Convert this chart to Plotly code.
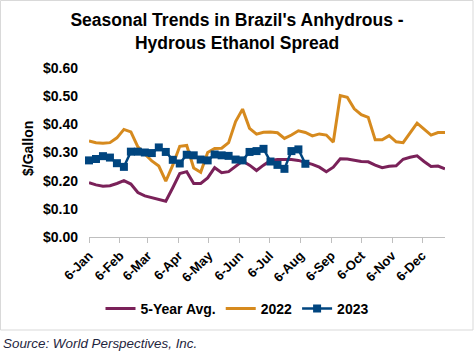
import plotly.graph_objects as go
import pandas as pd

# ---- data ----
weeks = pd.date_range("2023-01-06", periods=52, freq="7D")

avg5 = [0.193, 0.185, 0.180, 0.182, 0.190, 0.200, 0.188, 0.158, 0.146, 0.140,
        0.133, 0.127, 0.175, 0.225, 0.232, 0.190, 0.190, 0.210, 0.246, 0.228,
        0.232, 0.252, 0.270, 0.255, 0.236, 0.255, 0.272, 0.275, 0.275, 0.275,
        0.272, 0.265, 0.258, 0.248, 0.232, 0.248, 0.278, 0.277, 0.272, 0.268,
        0.267, 0.255, 0.246, 0.251, 0.253, 0.276, 0.283, 0.288, 0.268, 0.250,
        0.252, 0.242]

y2022 = [0.341, 0.335, 0.333, 0.335, 0.352, 0.382, 0.373, 0.320, 0.295, 0.270,
         0.252, 0.198, 0.255, 0.322, 0.325, 0.245, 0.230, 0.300, 0.314, 0.315,
         0.335, 0.410, 0.454, 0.386, 0.365, 0.372, 0.373, 0.370, 0.350, 0.362,
         0.377, 0.371, 0.359, 0.366, 0.362, 0.337, 0.502, 0.496, 0.455, 0.434,
         0.425, 0.345, 0.345, 0.360, 0.338, 0.335, 0.370, 0.404, 0.383, 0.362,
         0.371, 0.371]

y2023 = [0.272, 0.277, 0.287, 0.282, 0.262, 0.249, 0.303, 0.303, 0.300, 0.298,
         0.318, 0.302, 0.274, 0.261, 0.292, 0.290, 0.275, 0.272, 0.293, 0.290,
         0.288, 0.275, 0.272, 0.302, 0.305, 0.313, 0.268, 0.256, 0.242, 0.305,
         0.311, 0.260]

tick_dates = ["2023-01-06", "2023-02-06", "2023-03-06", "2023-04-06", "2023-05-06",
              "2023-06-06", "2023-07-06", "2023-08-06", "2023-09-06", "2023-10-06",
              "2023-11-06", "2023-12-06"]
tick_labels = ["6-Jan", "6-Feb", "6-Mar", "6-Apr", "6-May", "6-Jun",
               "6-Jul", "6-Aug", "6-Sep", "6-Oct", "6-Nov", "6-Dec"]
y_ticks = [0.0, 0.1, 0.2, 0.3, 0.4, 0.5, 0.6]
y_labels = ["$0.00", "$0.10", "$0.20", "$0.30", "$0.40", "$0.50", "$0.60"]

# ---- layout geometry (pixels) ----
W, H = 474, 357
L, R, T, B = 89, 29, 68, 120
PW, PH = W - L - R, H - T - B

def px(x):
    return (x - L) / PW

def py(y):
    return (H - B - y) / PH

FONT = "Liberation Sans, Arial, sans-serif"

fig = go.Figure()
fig.add_trace(go.Scatter(x=weeks, y=avg5, name="<b>5-Year Avg.</b>", mode="lines",
                         line=dict(color="#7A2159", width=3), cliponaxis=False))
fig.add_trace(go.Scatter(x=weeks, y=y2022, name="<b>2022</b>", mode="lines",
                         line=dict(color="#D68A1E", width=3), cliponaxis=False))
fig.add_trace(go.Scatter(x=weeks[:len(y2023)], y=y2023, name="<b>2023</b>", mode="lines+markers",
                         line=dict(color="#00457F", width=2.5),
                         marker=dict(symbol="square", size=8, color="#00457F"),
                         cliponaxis=False))

fig.update_layout(
    width=W, height=H,
    margin=dict(l=L, r=R, t=T, b=B, autoexpand=False),
    paper_bgcolor="white", plot_bgcolor="white",
    font=dict(family=FONT, color="black"),
    title=dict(text="<b>Seasonal Trends in Brazil's Anhydrous -<br>Hydrous Ethanol Spread</b>",
               x=px(237), xanchor="center", xref="paper", y=1 - 26 / H, yanchor="top",
               yref="container",
               font=dict(size=17.5, family=FONT, color="black")),
    showlegend=True,
    legend=dict(orientation="h", x=px(237), xanchor="center", y=py(309), yanchor="middle",
                font=dict(size=14, family=FONT, color="black"), itemwidth=30,
                tracegroupgap=0, bgcolor="rgba(0,0,0,0)"),
    xaxis=dict(type="date", range=["2023-01-06", "2023-12-29"], automargin=False,
               tickvals=tick_dates, ticktext=[f"<b>{t}</b>" for t in tick_labels],
               tickangle=-45, ticks="outside", ticklen=5, tickcolor="#BFBFBF",
               showline=True, linecolor="#BFBFBF", linewidth=1, showgrid=False,
               zeroline=False, tickfont=dict(size=13, family=FONT, color="black")),
    yaxis=dict(range=[0, 0.6], tickvals=y_ticks, automargin=False,
               ticktext=[f"<b>{t}</b>" for t in y_labels],
               showline=False, showgrid=False, zeroline=False, ticks="",
               ticklabelstandoff=10,
               tickfont=dict(size=14, family=FONT, color="black")),
    annotations=[
        dict(text="<b>$/Gallon</b>", textangle=-90, xref="paper", yref="paper",
             x=px(28), y=py(149), xanchor="center", yanchor="middle", showarrow=False,
             font=dict(size=14, family=FONT, color="black")),
        dict(text="<i>Source: World Perspectives, Inc.</i>", xref="paper", yref="paper",
             x=px(1), y=py(343), xanchor="left", yanchor="middle", showarrow=False,
             font=dict(size=13.4, family=FONT, color="#1F2640")),
    ],
    shapes=[
        dict(type="rect", xref="paper", yref="paper", x0=px(0.5), x1=px(473),
             y0=py(330), y1=py(0.5), line=dict(color="#D9D9D9", width=1),
             fillcolor="rgba(0,0,0,0)", layer="below"),
    ],
)

fig.write_html("out.html", config={"displayModeBar": False},
               post_script="document.body.style.margin='0';document.body.style.overflow='hidden';")
